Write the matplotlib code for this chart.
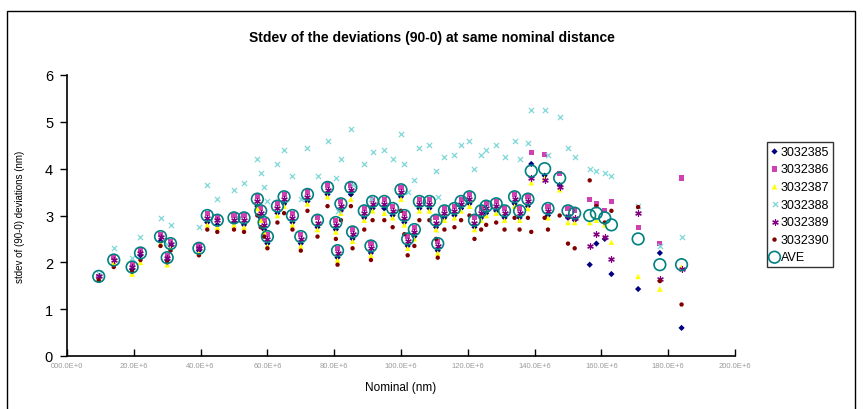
import matplotlib
matplotlib.use("Agg")
import matplotlib.pyplot as plt
from matplotlib.patches import Rectangle

plt.rcParams['font.family'] = ['Liberation Sans', 'DejaVu Sans']

# Nominal distance (units of 1e6 nm)
nominal = [9.5, 14, 19.5, 22, 28, 30, 31, 39.5, 42, 45, 50, 53, 57, 58, 59, 60,
           63, 65, 67.5, 70, 72, 75, 78, 80.5, 81, 82, 85, 85.5, 89, 91, 91.5, 95,
           97.5, 100, 101, 102, 104, 105.5, 108.5, 110.5, 111, 113, 116, 118, 120.5,
           122, 124, 125.5, 128.5, 131, 134, 135.5, 138, 139, 143, 144, 147.5, 150,
           152, 156.5, 158.5, 161, 163, 171, 177.5, 184]

s3032385 = [1.68, 1.95, 1.85, 2.15, 2.45, 2.05, 2.35, 2.25, 2.85, 2.80, 2.85, 2.80, 3.20, 2.95, 2.70, 2.40,
            3.05, 3.25, 2.85, 2.40, 3.30, 2.75, 3.45, 2.70, 2.10, 3.10, 3.45, 2.50, 2.95, 2.20, 3.15, 3.15,
            3.00, 3.40, 2.85, 2.35, 2.55, 3.15, 3.15, 2.75, 2.25, 2.95, 3.00, 3.15, 3.25,
            2.75, 2.95, 3.05, 3.10, 2.95, 3.25, 2.95, 3.20, 4.10, 3.85, 3.00, 3.65, 2.95,
            2.90, 1.95, 2.40, 2.50, 1.75, 1.43, 2.20, 0.60]
s3032386 = [1.70, 2.10, 1.95, 2.25, 2.60, 2.15, 2.45, 2.35, 3.05, 2.95, 3.00, 3.00, 3.40, 3.15, 2.90, 2.60,
            3.25, 3.45, 3.05, 2.60, 3.50, 2.95, 3.65, 2.90, 2.30, 3.30, 3.65, 2.70, 3.15, 2.40, 3.35, 3.35,
            3.20, 3.60, 3.05, 2.55, 2.75, 3.35, 3.35, 2.95, 2.45, 3.15, 3.20, 3.35, 3.45,
            2.95, 3.15, 3.25, 3.30, 3.15, 3.45, 3.15, 3.40, 4.35, 4.30, 3.20, 3.90, 3.15,
            3.10, 3.35, 3.25, 3.10, 3.30, 2.75, 2.40, 3.80]
s3032387 = [1.65, 2.00, 1.75, 2.00, 2.40, 1.95, 2.30, 2.20, 2.80, 2.75, 2.80, 2.75, 3.15, 2.90, 2.65, 2.35,
            3.00, 3.20, 2.80, 2.35, 3.25, 2.70, 3.40, 2.65, 2.05, 3.05, 3.35, 2.45, 2.90, 2.15, 3.10, 3.05,
            2.95, 3.35, 2.80, 2.30, 2.50, 3.10, 3.10, 2.70, 2.20, 2.90, 2.95, 3.10, 3.20,
            2.70, 2.90, 3.00, 3.05, 2.90, 3.20, 2.90, 3.15, 3.70, 3.80, 2.95, 3.55, 2.85,
            2.85, 2.85, 2.90, 2.80, 2.43, 1.70, 1.43, 1.90]
s3032388 = [1.75, 2.30, 2.10, 2.55, 2.95, 2.40, 2.80, 2.75, 3.65, 3.35, 3.55, 3.70, 4.20, 3.90, 3.60, 3.30,
            4.10, 4.40, 3.85, 3.35, 4.45, 3.85, 4.60, 3.80, 3.10, 4.20, 4.85, 3.65, 4.10, 3.35, 4.35, 4.40,
            4.20, 4.75, 4.10, 3.50, 3.75, 4.45, 4.50, 3.95, 3.40, 4.25, 4.30, 4.50, 4.60,
            4.00, 4.30, 4.40, 4.50, 4.25, 4.60, 4.20, 4.55, 5.25, 5.25, 4.30, 5.10, 4.45,
            4.25, 4.00, 3.95, 3.90, 3.85, 3.20, 2.35, 2.55]
s3032389 = [1.70, 2.05, 1.90, 2.20, 2.55, 2.10, 2.40, 2.30, 2.95, 2.90, 2.90, 2.90, 3.30, 3.05, 2.80, 2.50,
            3.15, 3.35, 2.95, 2.50, 3.40, 2.85, 3.55, 2.80, 2.20, 3.20, 3.55, 2.60, 3.05, 2.30, 3.25, 3.25,
            3.10, 3.50, 2.95, 2.45, 2.65, 3.25, 3.25, 2.85, 2.35, 3.05, 3.10, 3.25, 3.35,
            2.85, 3.05, 3.15, 3.20, 3.05, 3.35, 3.05, 3.30, 3.80, 3.75, 3.10, 3.60, 3.00,
            2.95, 2.35, 2.60, 2.55, 2.07, 3.05, 1.65, 1.85]
s3032390 = [1.62, 1.90, 1.80, 2.05, 2.35, 2.00, 2.25, 2.15, 2.70, 2.65, 2.70, 2.65, 3.00, 2.75, 2.55, 2.30,
            2.85, 3.05, 2.70, 2.25, 3.10, 2.55, 3.20, 2.50, 1.95, 2.90, 3.20, 2.30, 2.70, 2.05, 2.90, 2.90,
            2.75, 3.10, 2.60, 2.15, 2.35, 2.90, 2.90, 2.50, 2.10, 2.70, 2.75, 2.90, 3.00,
            2.50, 2.70, 2.80, 2.85, 2.70, 2.95, 2.70, 2.95, 2.65, 2.95, 2.70, 3.00, 2.40,
            2.30, 3.75, 3.20, 2.85, 3.10, 3.18, 1.60, 1.10]
ave = [1.70, 2.05, 1.90, 2.20, 2.55, 2.10, 2.40, 2.30, 3.00, 2.90, 2.95, 2.95, 3.35, 3.10, 2.85, 2.55,
       3.20, 3.40, 3.00, 2.55, 3.45, 2.90, 3.60, 2.85, 2.25, 3.25, 3.60, 2.65, 3.10, 2.35, 3.30, 3.30,
       3.15, 3.55, 3.00, 2.50, 2.70, 3.30, 3.30, 2.90, 2.40, 3.10, 3.15, 3.30, 3.40,
       2.90, 3.10, 3.20, 3.25, 3.10, 3.40, 3.10, 3.35, 3.95, 4.00, 3.15, 3.80, 3.10,
       3.05, 3.00, 3.05, 2.95, 2.80, 2.50, 1.95, 1.95]

series_names = ['3032385', '3032386', '3032387', '3032388', '3032389', '3032390', 'AVE']
x_ticks = [0, 20, 40, 60, 80, 100, 120, 140, 160, 180, 200]
x_tick_labels = ['000.0E+0', '20.0E+6', '40.0E+6', '60.0E+6', '80.0E+6', '100.0E+6',
                 '120.0E+6', '140.0E+6', '160.0E+6', '180.0E+6', '200.0E+6']
y_ticks = [0, 1, 2, 3, 4, 5, 6]

W, H = 863, 410
fig = plt.figure(figsize=(W / 100, H / 100), dpi=100)
fig.patches.append(Rectangle((7 / W, -0.02), (855 - 7) / W, (410 - 12) / H + 0.02,
                             transform=fig.transFigure, fill=False, edgecolor='black',
                             linewidth=1.0))

ax = fig.add_axes([67 / W, 1 - 357 / H, (735 - 67) / W, (357 - 76) / H])

styles = [
    dict(marker='D', c='#000080', s=10),
    dict(marker='s', c='#d040b0', s=14),
    dict(marker='^', c='#ffff00', s=16),
    dict(marker='x', c='#7fd8d8', s=14, linewidths=0.9),
    dict(marker=(6, 2, 0), c='#800080', s=16, linewidths=0.9),
    dict(marker='o', c='#800000', s=10),
]
data = [s3032385, s3032386, s3032387, s3032388, s3032389, s3032390]
for vals, name, st in zip(data, series_names[:6], styles):
    kw = dict(st)
    if kw['marker'] not in ('x',) and not isinstance(kw['marker'], tuple):
        kw['edgecolors'] = 'none'
    ax.scatter(nominal, vals, label=name, zorder=3, **kw)

ax.scatter(nominal, ave, marker='o', s=70, facecolors='none', edgecolors='#008080',
           linewidths=1.2, label=series_names[6], zorder=4)

ax.set_xlim(0, 200)
ax.set_ylim(0, 6)
ax.set_xticks(x_ticks)
ax.set_xticklabels(x_tick_labels, fontsize=5.5, color='#9a9a9a')
ax.set_yticks(y_ticks)
ax.set_yticklabels([str(v) for v in y_ticks], fontsize=10.5)
ax.tick_params(axis='y', direction='out', length=5, width=1, pad=5)
ax.tick_params(axis='x', direction='in', length=5, width=1, pad=4)
for sp in ['top', 'right']:
    ax.spines[sp].set_visible(False)
for sp in ['left', 'bottom']:
    ax.spines[sp].set_linewidth(1.2)

ax.set_xlabel('Nominal (nm)', fontsize=8.5, labelpad=9)
ax.set_ylabel('stdev of (90-0) deviations (nm)', fontsize=7, labelpad=14)

fig.text(0.5, 1 - 38 / H, 'Stdev of the deviations (90-0) at same nominal distance',
         ha='center', va='center', fontsize=10, fontweight='bold')

leg = fig.legend(loc='upper left', bbox_to_anchor=(767 / W, 1 - 143 / H),
                 fontsize=9, frameon=True, fancybox=False, edgecolor='black',
                 borderpad=0.3, handlelength=0.6, handletextpad=0.2,
                 labelspacing=0.45, borderaxespad=0, markerscale=1.0)
leg.get_frame().set_linewidth(1.0)

fig.savefig('out.png', dpi=100)
